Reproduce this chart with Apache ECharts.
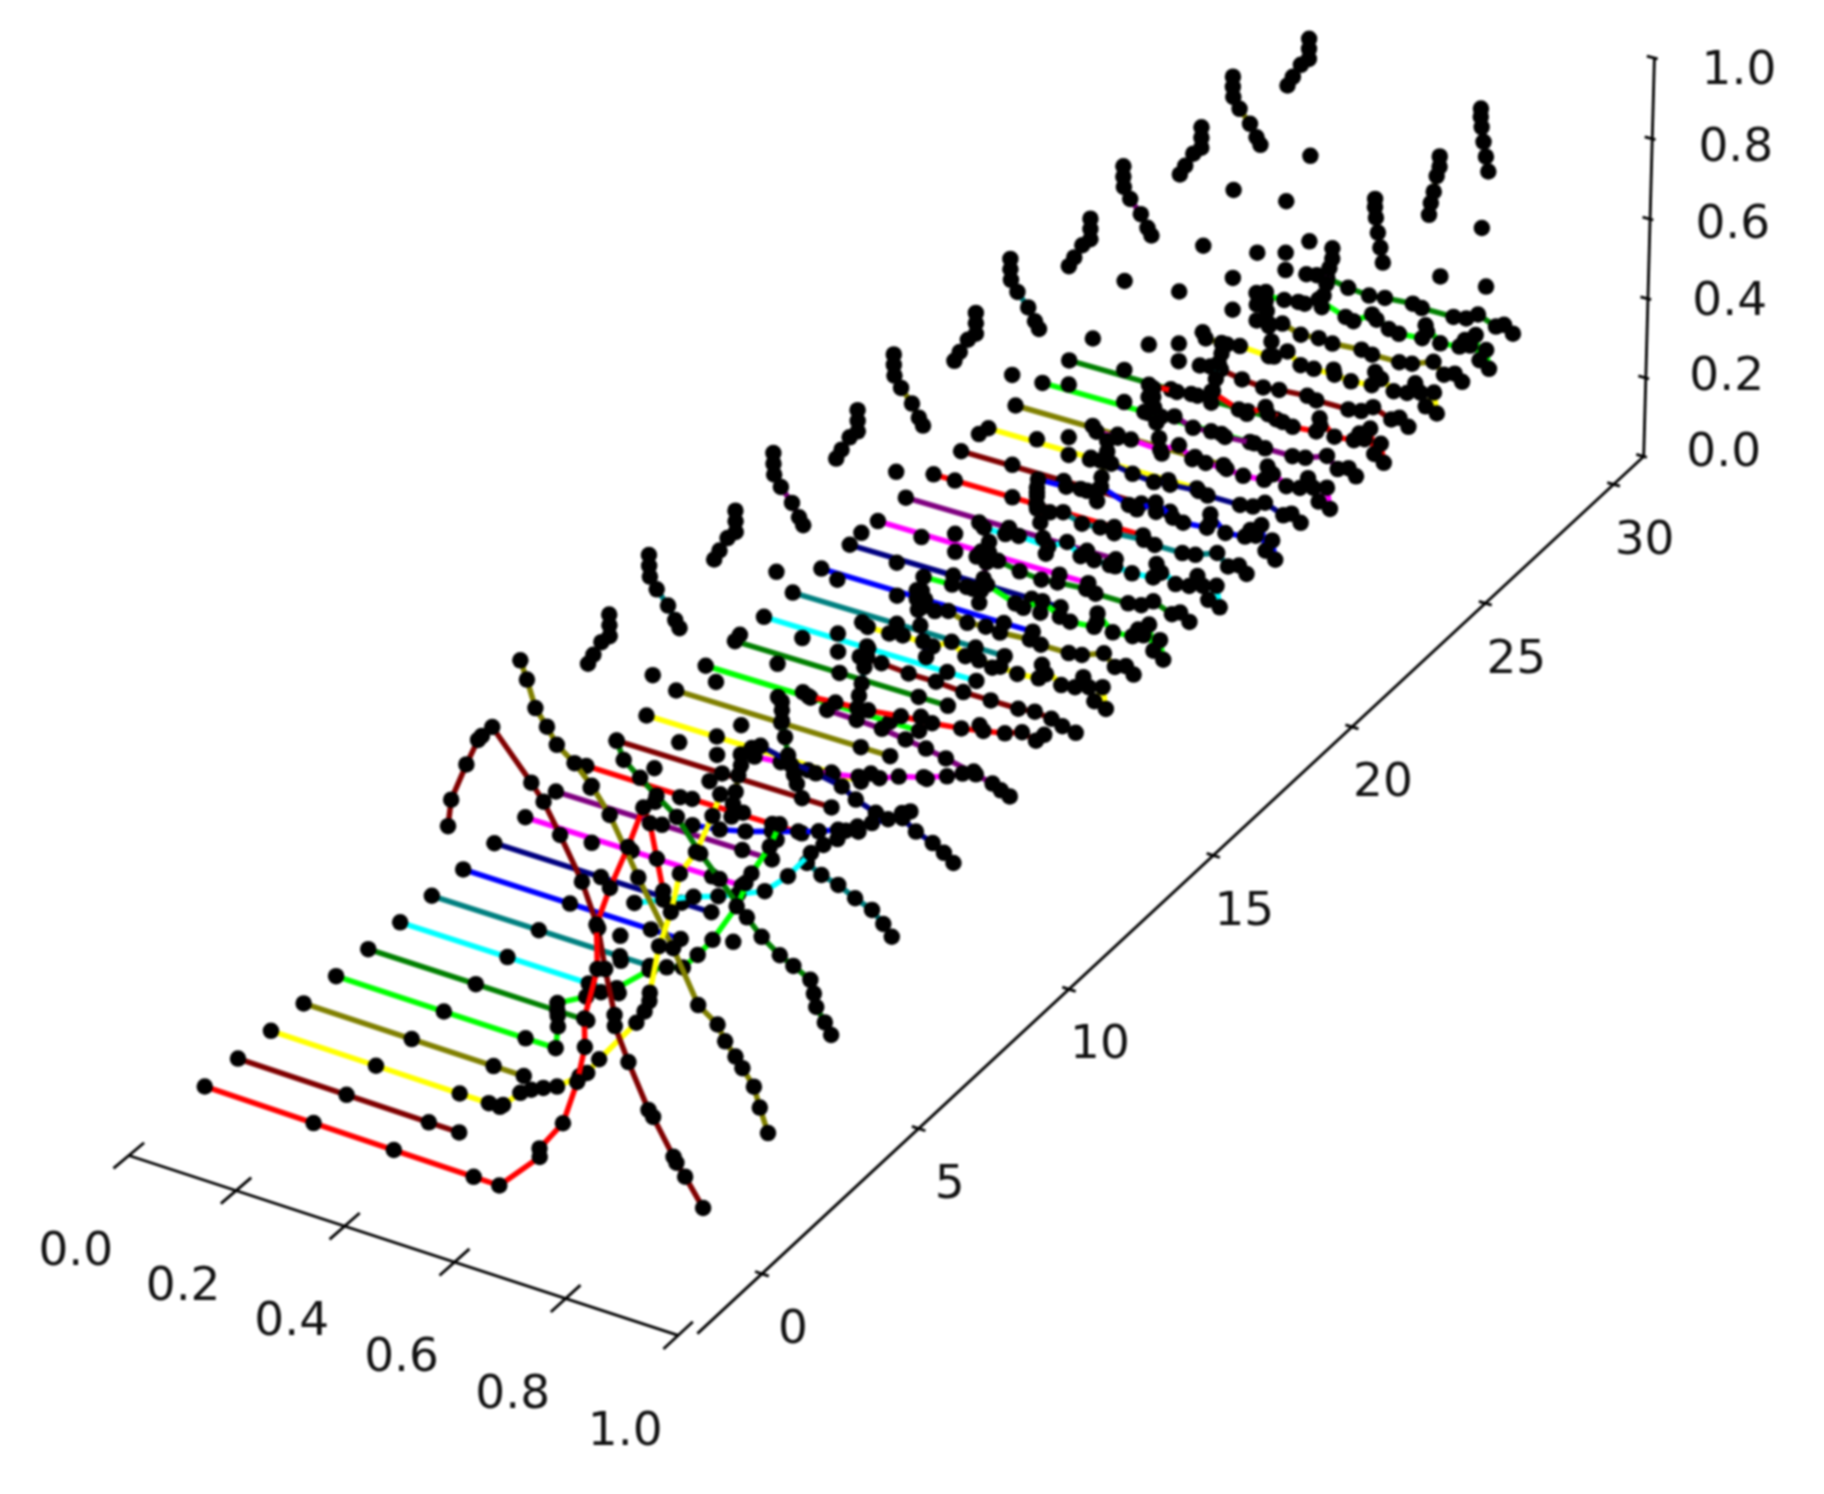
<!DOCTYPE html>
<html><head><meta charset="utf-8">
<style>html,body{margin:0;padding:0;background:#fff}#c{width:1824px;height:1494px;filter:blur(0.8px)}</style>
<script src="https://cdn.jsdelivr.net/npm/echarts@6/dist/echarts.min.js"></script>
</head><body><div id="c"></div>
<script>
// tick labels
const xTicks=[0,0.2,0.4,0.6,0.8,1];
const xTickLabels=['0.0','0.2','0.4','0.6','0.8','1.0'];
const tTicks=[0,5,10,15,20,25,30];
const tTickLabels=['0','5','10','15','20','25','30'];
const zTicks=[0,0.2,0.4,0.6,0.8,1];
const zTickLabels=['0.0','0.2','0.4','0.6','0.8','1.0'];
const palette=['#ff0000','#800000','#ffff00','#808000','#00ff00','#008000','#00ffff','#008080','#0000ff','#000080','#ff00ff','#800080'];

// values: x position and height along each time slice (null = gap in the line)
const flatX=[0,.2,.35,.405], flatZ=[0,0,0,0];
const leftArc1X=[.42,.43,.445,.46,.46,.46], leftArc1Z=[.85,.875,.91,.93,.955,.98];
const leftArc3X=[.417,.417,.418,.43,.45,.4625,.47], leftArc3Z=[.98,.955,.93,.905,.875,.846,.83];
const dots1X=[.42,null,.465,null,.465,null,.42,null,.42], dots1Z=[.56,null,.69,null,.475,null,.43,null,.386];
const dots3X=[.42,null,.42,null,.466,null,.466,null,.42], dots3Z=[.70,null,.48,null,.56,null,.43,null,.40];
const rightArc1X=[.784,.784,.786,.79,.795,.80,null,.79,null,.80], rightArc1Z=[.92,.90,.875,.84,.805,.77,null,.626,null,.483];
const rightArc3X=[.805,.805,.80,.795,.79,.787,null,.81,null,.787], rightArc3Z=[.92,.895,.87,.83,.80,.77,null,.626,null,.48];
const rightArc5X=[.765,.765,.765,.77,.775,.78,.785,.79], rightArc5Z=[.90,.88,.855,.82,.78,.76,.74,.72];
const plateau1X=[.46,.48,.50,.54,.58,.61,.663,.68,.74,.764,.786,.82,.835,.852], plateau1Z=[.39,.395,.395,.385,.38,.385,.39,.385,.385,.39,.408,.39,.40,.384];
const plateau3X=[.466,.49,.515,.55,.584,.61,.665,.685,.736,.76,.80,.82,.84,.854], plateau3Z=[.39,.39,.40,.385,.389,.385,.39,.385,.385,.39,.41,.385,.395,.38];
const plateau0X=[.415,.468,.495,.507,.533,.585,.60,.635,.667,.686,.73,.736,.764,.80,.81,.82,.83,.838,.85,.856], plateau0Z=[.383,.385,.39,.39,.41,.385,.38,.41,.385,.38,.385,.42,.385,.39,.41,.40,.43,.37,.40,.355];
const plateau2X=[.42,.46,.485,.54,.575,.60,.625,.664,.695,.734,.74,.775,.80,.815,.825,.835,.85,.856], plateau2Z=[.385,.385,.39,.385,.41,.385,.385,.385,.38,.385,.42,.385,.39,.42,.40,.37,.41,.36];

const t0X=[0,.2,.346,.49,.536,.61,.61,.653,.68,.695,.695,.72,.72,.745,.778,.806,.817,.828,.838];
const t0Z=[0,0,0,0,0,.10,.12,.198,.306,.394,.46,.585,.687,.781,.888,.989,.958,.882,.813];
const t1X=[.4,.407,.436,.458,.465,.484,.551,.572,.60,.637,.664,.675,.69,.69,.713,.747,.755,.79,.795,.81,.841];
const t1Z=[.716,.78,.873,.938,.95,.978,.878,.843,.778,.686,.59,.50,.40,.374,.30,.203,.19,.112,.10,.074,.014];
const t2X=[0,.194,.347,.40,.42,.426,.458,.478,.50,.525,.566,.58,.602,.67,.685,.694,.695,.713,.735,.752,.781,.811,.825];
const t2Z=[0,0,0,0,0,.007,.05,.066,.08,.094,.136,.15,.192,.307,.34,.368,.388,.504,.592,.688,.75,.845,.90];
const t3X=[.417,.428,.442,.462,.479,.51,.54,.571,.62,.68,.723,.757,.77,.788,.80,.82,.83,.844];
const t3Z=[.98,.94,.88,.845,.81,.78,.74,.685,.56,.42,.305,.274,.24,.212,.19,.155,.11,.056];
const t4X=[.41,.41,.41,.463,.49,.519,.579,.61,.639,.666,.693,.737,.764,.797,.815];
const t4Z=[.054,.08,.11,.148,.17,.192,.261,.28,.292,.333,.38,.477,.565,.641,.70];
const t5X=[.469,.481,.51,.539,.575,.616,.65,.698,.724,.756,.78,.81,.816,.82,.835,.846];
const t5Z=[.69,.65,.62,.59,.555,.486,.44,.37,.335,.305,.29,.27,.24,.21,.18,.155];
const t6DotsX=[.41,null,.41], t6DotsZ=[.08,null,.14];
const t6X=[.437,.49,.545,.59,.626,.674,.716,.7575,.78,.805,.82];
const t6Z=[.23,.26,.29,.31,.33,.357,.41,.482,.51,.534,.56];
const t7DotsX=[.52,null,.58,null,.64], t7DotsZ=[.49,null,.44,null,.40];
const t7X=[.694,.72,.75,.78,.81,.83,.845];
const t7Z=[.368,.35,.339,.32,.305,.28,.256];
const t8X=[.43,.48,.527,.575,.623,.66,.695,.73,.756,.785,.81,.825];
const t8Z=[.285,.295,.31,.33,.349,.365,.383,.405,.424,.445,.47,.48];
const t9X=[.50,.55,.60,.647,.672,.708,.756,.78,.81,.83,.847];
const t9Z=[.44,.425,.415,.403,.382,.365,.372,.35,.335,.32,.303];
const t10X=[.432,.48,.53,.575,.622,.66,.695,.74,.782,.81,.83];
const t10Z=[.324,.33,.331,.34,.353,.365,.383,.40,.419,.437,.45];
const t11X=[.51,.564,.61,.653,.69,.726,.78,.81,.825,.841];
const t11Z=[.405,.403,.40,.392,.385,.376,.36,.35,.34,.332];
const t12X=[.42,.47,.53,.59,.647,.70,.74,.779,.81,.835,.85];
const t12Z=[.34,.345,.35,.36,.366,.375,.385,.395,.41,.40,.42];
const t13X=[.46,.50,.55,.60,.65,.70,.75,.78,.81,.83,.854];
const t13Z=[.39,.39,.385,.385,.38,.38,.38,.385,.38,.37,.364];

const rowX=[
  t0X,
  [...flatX,null,...t1X],
  t2X,
  [...flatX,null,...t3X,null,...rightArc3X],
  [...flatX,...t4X],
  [...flatX,null,...leftArc1X,null,.42,null,.42,null,...t5X,null,...rightArc5X],
  [...flatX,null,...t6DotsX,null,...t6X],
  [...flatX,null,...leftArc3X,null,...dots3X,null,...t7DotsX,null,...t7X,null,...rightArc3X],
  [...flatX,null,...t8X],
  [...flatX,null,...leftArc1X,null,...dots1X,null,...t9X,null,...rightArc1X],
  [...flatX,null,...t10X],
  [...flatX,null,...leftArc3X,null,...dots3X,null,...t11X,null,...rightArc3X],
  [...flatX,null,...t12X],
  [...flatX,null,...leftArc1X,null,...dots1X,null,...t13X,null,...rightArc1X]
];
const rowZ=[
  t0Z,
  [...flatZ,null,...t1Z],
  t2Z,
  [...flatZ,null,...t3Z,null,...rightArc3Z],
  [...flatZ,...t4Z],
  [...flatZ,null,...leftArc1Z,null,.56,null,.43,null,...t5Z,null,...rightArc5Z],
  [...flatZ,null,...t6DotsZ,null,...t6Z],
  [...flatZ,null,...leftArc3Z,null,...dots3Z,null,...t7DotsZ,null,...t7Z,null,...rightArc3Z],
  [...flatZ,null,...t8Z],
  [...flatZ,null,...leftArc1Z,null,...dots1Z,null,...t9Z,null,...rightArc1Z],
  [...flatZ,null,...t10Z],
  [...flatZ,null,...leftArc3Z,null,...dots3Z,null,...t11Z,null,...rightArc3Z],
  [...flatZ,null,...t12Z],
  [...flatZ,null,...leftArc1Z,null,...dots1Z,null,...t13Z,null,...rightArc1Z]
];
// later slices repeat the same four-step shape
const lateKinds=[2,3,0,1,2,3,0,1,2,3,0,1,2,3,0,1]; // t = 14..29
for(const k of lateKinds){
  if(k===0){rowX.push([...flatX,null,...plateau0X]);rowZ.push([...flatZ,null,...plateau0Z]);}
  if(k===2){rowX.push([...flatX,null,...plateau2X]);rowZ.push([...flatZ,null,...plateau2Z]);}
  if(k===1){rowX.push([...flatX,null,...leftArc1X,null,...dots1X,null,...plateau1X,null,...rightArc1X]);
            rowZ.push([...flatZ,null,...leftArc1Z,null,...dots1Z,null,...plateau1Z,null,...rightArc1Z]);}
  if(k===3){rowX.push([...flatX,null,...leftArc3X,null,...dots3X,null,...plateau3X,null,...rightArc3X]);
            rowZ.push([...flatZ,null,...leftArc3Z,null,...dots3Z,null,...plateau3Z,null,...rightArc3Z]);}
}

// 3D view: turns (x, t, z) into page positions
const S=1824/1568, AXIS_T=-2.2, Z_AXIS_T=31.2;
function project(x,t,z){
  const u=1-x, w=1+.03*u+.00425*t-.02*z;
  return [S*(655+30.3*t-473.7*u-18*z)/w, S*(1095-20.85*t-133*u-389*z)/w];
}
// the x axis runs slightly in front of the floor corner
const xAxisPoint=(v,t)=>project(-.004+.982*v,t,-.018*(1-v));
const INK='#000';
const axisLine=(pts)=>({type:'line',data:pts,showSymbol:false,silent:true,animation:false,clip:false,z:1,
  lineStyle:{color:INK,width:2.8,opacity:1},emphasis:{disabled:true}});
const labelSeries=(pts,labels,off)=>({type:'scatter',silent:true,animation:false,clip:false,z:1,symbolSize:0,
  itemStyle:{opacity:1},
  data:pts.map((p,i)=>({value:p,label:{offset:off(i)}})),
  label:{show:true,position:'inside',align:'center',verticalAlign:'middle',opacity:1,
    fontFamily:'DejaVu Sans',fontSize:47,color:'#111',formatter:p=>labels[p.dataIndex]}});

const series=[];
series.push(axisLine([xAxisPoint(0,AXIS_T),xAxisPoint(1,AXIS_T)]));
xTicks.forEach(v=>series.push(axisLine([xAxisPoint(v,AXIS_T-.45),xAxisPoint(v,AXIS_T+.45)])));
series.push(axisLine([project(1,AXIS_T+.2,0),project(1,Z_AXIS_T,0)]));
tTicks.forEach(v=>series.push(axisLine([project(1.012,v,0),project(.988,v,0)])));
series.push(axisLine([project(1,Z_AXIS_T,0),project(1,Z_AXIS_T,1)]));
zTicks.forEach(v=>series.push(axisLine([project(1.006,Z_AXIS_T,v),project(.986,Z_AXIS_T,v)])));
series.push(labelSeries(xTicks.map(v=>xAxisPoint(v,AXIS_T)),xTickLabels,()=>[-53,97]));
series.push(labelSeries(tTicks.map(v=>project(1,v,0)),tTickLabels,()=>[31,57]));
series.push(labelSeries(zTicks.map(v=>project(1,Z_AXIS_T,v)),zTickLabels,i=>[80+i*.9,-3+i*3.3]));

// far slices first, so that near ones are painted over them
for(let t=rowX.length-1;t>=0;t--){
  const data=rowX[t].map((x,i)=>x===null?[NaN,NaN]:project(x,t,rowZ[t][i]));
  series.push({type:'line',data,z:2+(29-t),silent:true,animation:false,clip:false,connectNulls:false,
    showSymbol:true,showAllSymbol:true,symbol:'circle',symbolSize:16.5,
    lineStyle:{color:palette[t%12],width:5.5},itemStyle:{color:'#000',borderWidth:0},emphasis:{disabled:true}});
}
const chart=echarts.init(document.getElementById('c'),null,{renderer:'canvas'});
chart.setOption({animation:false,backgroundColor:'#fff',
  grid:{left:0,right:0,top:0,bottom:0},
  xAxis:{type:'value',min:0,max:1824,show:false},
  yAxis:{type:'value',min:0,max:1494,inverse:true,show:false},
  series});
</script></body></html>
